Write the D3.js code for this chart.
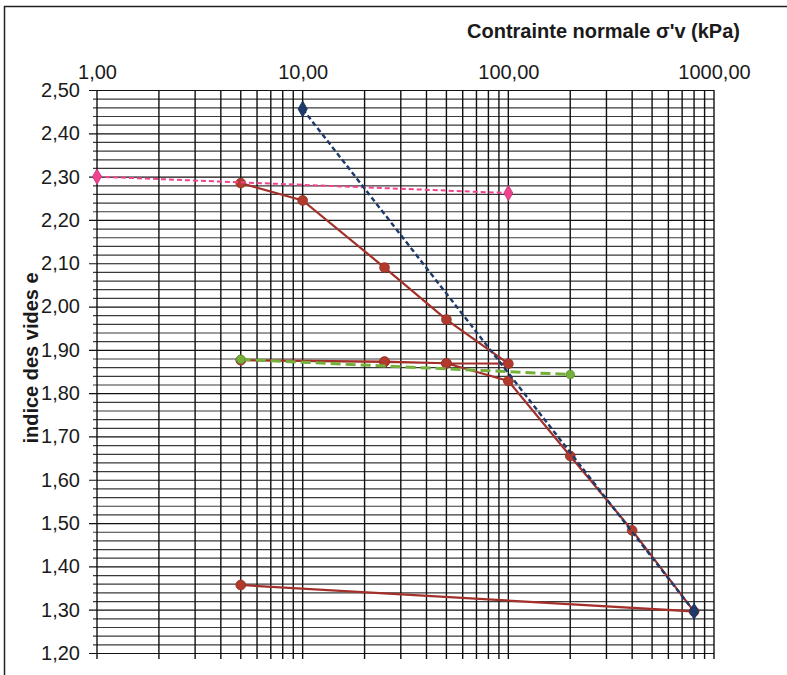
<!DOCTYPE html>
<html><head><meta charset="utf-8">
<script src="https://cdn.jsdelivr.net/npm/d3@7"></script>
<style>
html,body{margin:0;padding:0;background:#fff;}
svg{display:block;font-family:Arial,"Liberation Sans",sans-serif;}
</style></head>
<body>
<svg id="chart" width="787" height="675"></svg>
<script>
// ---- data ----
const xTickValues = [1, 10, 100, 1000];
const yTickValues = [1.2,1.3,1.4,1.5,1.6,1.7,1.8,1.9,2.0,2.1,2.2,2.3,2.4,2.5];
const xTitle = "Contrainte normale σ'v (kPa)";
const yTitle = "indice des vides e";

// essai oedométrique (courbe principale)
const redX = [5, 10, 25, 50, 100, 50, 25, 5, 25, 50, 100, 200, 400, 800, 5];
const redE = [2.285, 2.245, 2.09, 1.97, 1.868, 1.869, 1.872, 1.876, 1.873, 1.869, 1.828, 1.655, 1.483, 1.296, 1.357];
// droite bleue
const blueX = [10, 800];
const blueE = [2.456, 1.296];
// droite rose
const pinkX = [1, 100];
const pinkE = [2.30, 2.262];
// droite verte
const greenX = [5, 200];
const greenE = [1.878, 1.843];

// ---- layout ----
const svg = d3.select("#chart");
const L = 97, R = 714, T = 90, B = 653;
const x = d3.scaleLog().domain([1, 1000]).range([L, R]);
const y = d3.scaleLinear().domain([1.2, 2.5]).range([B, T]);
const fmt = v => d3.format(".2f")(v).replace(".", ",");

// frame
svg.append("rect").attr("x", 4.5).attr("y", 6.5).attr("width", 820).attr("height", 720)
  .attr("fill", "none").attr("stroke", "#222").attr("stroke-width", 1.5);

// horizontal grid (every 0.02)
const isMajor = d => Math.abs(d * 10 - Math.round(d * 10)) < 1e-6;
const hLines = d3.range(0, 66).map(i => +(1.2 + i * 0.02).toFixed(2));
svg.append("g").selectAll("line").data(hLines).join("line")
  .attr("x1", d => isMajor(d) ? L - 8 : L - 4)
  .attr("x2", R)
  .attr("y1", d => y(d) + 0.5).attr("y2", d => y(d) + 0.5)
  .attr("stroke", d => isMajor(d) ? "#111" : "#3a3a3a")
  .attr("stroke-width", 1.2);

// vertical grid (log minors)
const vLines = [];
[1, 10, 100].forEach(dec => { for (let k = 1; k <= 9; k++) vLines.push(dec * k); });
vLines.push(1000);
svg.append("g").selectAll("line").data(vLines).join("line")
  .attr("x1", d => x(d)).attr("x2", d => x(d))
  .attr("y1", T).attr("y2", B + 6)
  .attr("stroke", "#111").attr("stroke-width", 1.4);

// top axis labels
const xAxis = d3.axisTop(x).tickValues(xTickValues).tickFormat(fmt).tickSize(0).tickPadding(11);
const gx = svg.append("g").attr("transform", `translate(0,${T})`).call(xAxis);
gx.select(".domain").remove();
gx.selectAll("text").attr("font-size", 20).attr("fill", "#1a1a1a").attr("font-family", "Arial,'Liberation Sans',sans-serif");

// left axis labels
const yAxis = d3.axisLeft(y).tickValues(yTickValues).tickFormat(fmt).tickSize(0).tickPadding(17);
const gy = svg.append("g").attr("transform", `translate(${L},0)`).call(yAxis);
gy.select(".domain").remove();
gy.selectAll("text").attr("font-size", 20).attr("fill", "#1a1a1a").attr("font-family", "Arial,'Liberation Sans',sans-serif");

// titles
svg.append("text").attr("x", 740).attr("y", 38).attr("text-anchor", "end")
  .attr("font-size", 20).attr("font-weight", "bold").attr("fill", "#1a1a1a").text(xTitle);
svg.append("text").attr("transform", `translate(38,358) rotate(-90)`)
  .attr("text-anchor", "middle").attr("font-size", 20).attr("font-weight", "bold")
  .attr("fill", "#1a1a1a").text(yTitle);

// series helper
function series(xs, es, color, width, dash, marker, msize, mcolor) {
  const pts = xs.map((v, i) => [v, es[i]]);
  const line = d3.line().x(d => x(d[0])).y(d => y(d[1]));
  svg.append("path").datum(pts).attr("d", line).attr("fill", "none")
    .attr("stroke", color).attr("stroke-width", width)
    .attr("stroke-dasharray", dash || null);
  const sym = d3.symbol().type(marker).size(msize);
  svg.append("g").selectAll("path").data(pts).join("path")
    .attr("d", sym).attr("transform", d => `translate(${x(d[0])},${y(d[1])})`)
    .attr("fill", mcolor).attr("stroke", d3.color(mcolor).darker(0.6)).attr("stroke-width", 0.8);
}

series(redX, redE, "#a3302a", 2.2, null, d3.symbolCircle, 75, "#b23a2c");
series(greenX, greenE, "#74b03a", 3, "10,5", d3.symbolCircle, 60, "#74b03a");
series(pinkX, pinkE, "#f0428e", 2, "5,3", d3.symbolDiamond, 70, "#f0428e");
series(blueX, blueE, "#1d3a6b", 2.4, "5,3", d3.symbolDiamond, 75, "#1d3a6b");
</script>
</body></html>
